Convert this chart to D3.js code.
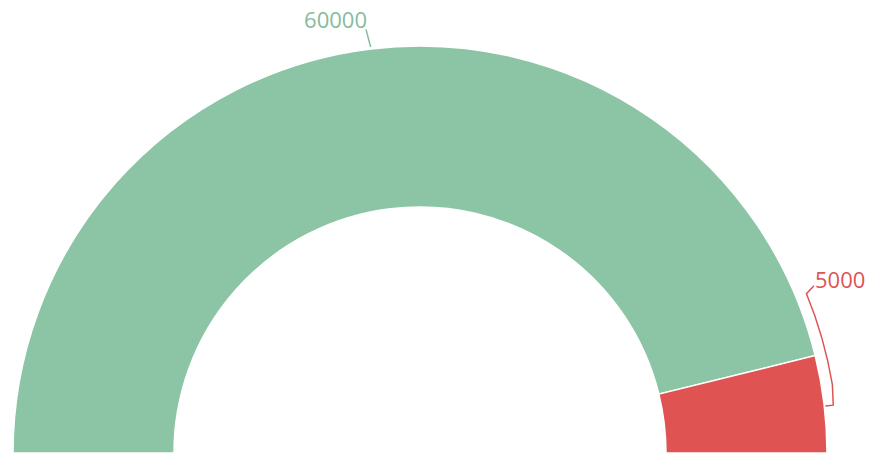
<!DOCTYPE html>
<html>
<head>
<meta charset="utf-8">
<script src="https://cdn.jsdelivr.net/npm/d3@7"></script>
<style>
  body { margin: 0; background: #fff; }
  text { font-family: "Open Sans", sans-serif; }
</style>
</head>
<body>
<div id="chart"></div>
<script>
var width = 872,
    height = 456;

var categories = ["A", "B"];
var values = [60000, 5000];
var colors = ["#8cc5a5", "#e05353"];
var labelColors = ["#86bb9d", "#e05353"];

var cx = 420, cy = 453,
    outerR = 407, innerR = 246;

var svg = d3.select("#chart").append("svg")
    .attr("width", width)
    .attr("height", height);

var g = svg.append("g")
    .attr("transform", `translate(${cx},${cy})`);

var pie = d3.pie()
    .sort(null)
    .startAngle(-Math.PI / 2)
    .endAngle(Math.PI / 2);

var arc = d3.arc()
    .innerRadius(innerR)
    .outerRadius(outerR);

var arcs = pie(values);

g.selectAll("path.slice")
    .data(arcs)
    .enter().append("path")
    .attr("class", "slice")
    .attr("d", arc)
    .style("fill", function(d, i) { return colors[i]; })
    .style("stroke", "#fff")
    .style("stroke-width", 1.5);

// polar helper: angle measured clockwise from 12 o'clock (like d3.arc)
function pt(a, r) { return [r * Math.sin(a), -r * Math.cos(a)]; }

// label for the big slice: straight leader line from the middle of the arc
var a0 = (arcs[0].startAngle + arcs[0].endAngle) / 2;
var p1 = pt(a0, outerR + 2), p2 = pt(a0 - 0.006, outerR + 20);
g.append("path")
    .attr("d", d3.line()([p1, p2]))
    .style("fill", "none")
    .style("stroke", labelColors[0])
    .style("stroke-width", 1.5);
g.append("text")
    .attr("x", p2[0] + 1)
    .attr("y", p2[1] - 1)
    .attr("text-anchor", "end")
    .style("font-size", "22px")
    .style("fill", labelColors[0])
    .text(values[0]);

// label for the small slice: bracket hugging the outer edge
var deg = Math.PI / 180;
var b = d3.path();
var s = pt(Math.PI / 2 - 6.6 * deg, outerR + 1);
b.moveTo(s[0], s[1]);
var s2 = pt(Math.PI / 2 - 6.6 * deg, outerR + 9);
b.lineTo(s2[0], s2[1]);
var s3 = pt(Math.PI / 2 - 9.4 * deg, outerR + 11);
b.lineTo(s3[0], s3[1]);
b.arc(0, 0, outerR + 11, -9.4 * deg, -22.4 * deg, true);
var s4 = pt(Math.PI / 2 - 23 * deg, outerR + 21);
b.lineTo(s4[0], s4[1]);
g.append("path")
    .attr("d", b.toString())
    .style("fill", "none")
    .style("stroke", labelColors[1])
    .style("stroke-width", 1.5);
g.append("text")
    .attr("x", s4[0] + 1)
    .attr("y", s4[1] + 2)
    .attr("text-anchor", "start")
    .style("font-size", "22px")
    .style("fill", labelColors[1])
    .text(values[1]);
</script>
</body>
</html>
